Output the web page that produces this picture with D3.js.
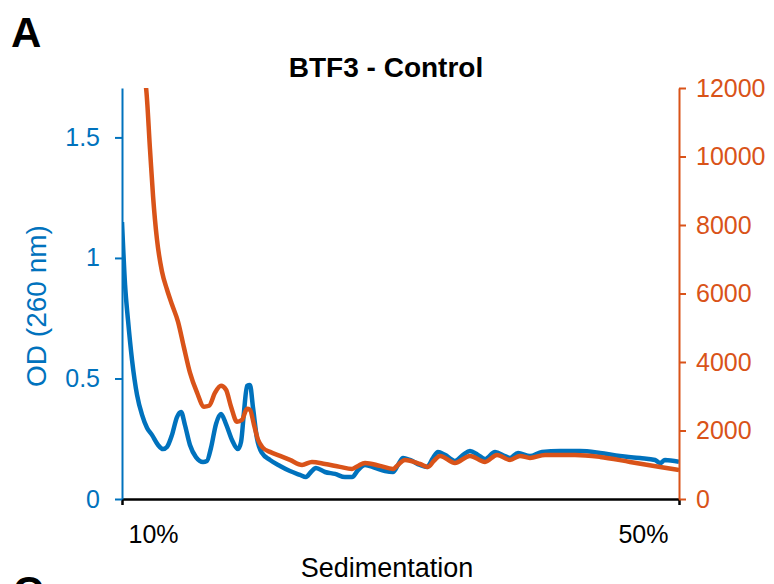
<!DOCTYPE html>
<html lang="en">
<head>
  <meta charset="UTF-8">
  <title>BTF3 - Control</title>
  <script src="https://d3js.org/d3.v7.min.js"></script>
  <style>
    body {
      margin: 0;
      padding: 0;
      background: #ffffff;
      font-family: "Liberation Sans", Arial, sans-serif;
    }
    .tick text {
      font-family: "Liberation Sans", Arial, sans-serif;
    }
  </style>
</head>
<body>
  <svg id="chart"></svg>

  <script>
    // sucrose gradient position (%), OD 260 nm trace
    const odSed = [10.00, 10.22, 10.43, 10.72, 11.08, 11.44, 11.80, 12.15, 12.59, 12.94, 13.23, 13.59,
      13.95, 14.24, 14.52, 14.88, 15.31, 15.82, 16.10, 16.39, 16.75, 17.11, 17.47, 17.90, 18.33, 18.55,
      18.76, 18.98, 19.19, 19.41, 19.69, 20.05, 20.63, 21.35, 22.06, 22.78, 23.21, 23.57, 23.93, 24.58,
      25.30, 26.01, 26.52, 26.95, 27.45, 28.17, 28.89, 29.46, 29.82, 30.18, 30.68, 31.40, 31.90, 32.33,
      32.69, 33.19, 33.91, 34.49, 34.99, 35.56, 36.07, 36.79, 37.50, 37.86, 38.44, 39.30, 40.16, 41.45,
      42.89, 44.33, 45.76, 47.20, 48.28, 48.64, 48.99, 50.00];
    const odValues = [1.149, 0.888, 0.743, 0.577, 0.432, 0.349, 0.295, 0.266, 0.224, 0.207, 0.216, 0.266,
      0.340, 0.361, 0.307, 0.224, 0.174, 0.154, 0.158, 0.212, 0.311, 0.353, 0.311, 0.245, 0.207, 0.237,
      0.361, 0.469, 0.473, 0.378, 0.253, 0.191, 0.162, 0.137, 0.116, 0.100, 0.091, 0.112, 0.129, 0.112,
      0.104, 0.091, 0.091, 0.120, 0.141, 0.129, 0.116, 0.112, 0.141, 0.170, 0.162, 0.141, 0.133, 0.170,
      0.195, 0.183, 0.158, 0.183, 0.199, 0.183, 0.166, 0.195, 0.178, 0.170, 0.191, 0.178, 0.195, 0.199,
      0.199, 0.191, 0.178, 0.170, 0.162, 0.149, 0.162, 0.154];

    // second trace (right axis)
    const sigSed = [11.58, 11.72, 12.01, 12.23, 12.51, 12.87, 13.23, 13.59, 14.02, 14.45, 14.88, 15.39,
      15.89, 16.25, 16.68, 17.11, 17.47, 17.83, 18.26, 18.62, 18.98, 19.19, 19.48, 19.77, 20.13, 20.63,
      21.35, 22.06, 22.93, 23.64, 24.58, 25.65, 26.52, 26.95, 27.45, 28.53, 29.46, 29.82, 30.32, 31.40,
      31.97, 32.40, 32.84, 33.91, 34.99, 36.07, 36.93, 37.86, 38.58, 39.30, 40.38, 42.53, 44.33, 46.48,
      48.64, 50.00];
    const sigValues = [12264, 12030, 10215, 8840, 7581, 6644, 6117, 5678, 5181, 4420, 3688, 3103,
      2693, 2722, 3103, 3308, 3190, 2693, 2254, 2312, 2634, 2605, 2166, 1727, 1493, 1376,
      1259, 1142, 995, 1083, 1024, 937, 878, 966, 1054, 966, 878, 995, 1142, 1024,
      937, 1112, 1259, 1054, 1259, 1083, 1288, 1142, 1259, 1200, 1288, 1288, 1229, 1083,
      937, 849];

    const leftTicks = [0, 0.5, 1, 1.5];
    const rightTicks = [0, 2000, 4000, 6000, 8000, 10000, 12000];
    const xTicks = [10, 50];

    const blue = "#0072BD";
    const orange = "#D95319";

    const width = 774, height = 584;
    const margin = { top: 88, right: 95, bottom: 85, left: 122 };
    const innerW = width - margin.left - margin.right;
    const innerH = height - margin.top - margin.bottom;

    const svg = d3.select("#chart")
      .attr("width", width)
      .attr("height", height);

    const x = d3.scaleLinear().domain([10, 50]).range([0, innerW]);
    const yL = d3.scaleLinear().domain([0, 1.705]).range([innerH, 0]);
    const yR = d3.scaleLinear().domain([0, 12000]).range([innerH, 0]);

    const g = svg.append("g")
      .attr("transform", `translate(${margin.left},${margin.top})`);

    g.append("clipPath").attr("id", "plot-clip")
      .append("rect")
      .attr("x", 0).attr("y", 0)
      .attr("width", innerW).attr("height", innerH);

    // lines
    const odLine = d3.line()
      .x((d, i) => x(odSed[i]))
      .y(d => yL(d))
      .curve(d3.curveMonotoneX);

    const sigLine = d3.line()
      .x((d, i) => x(sigSed[i]))
      .y(d => yR(d))
      .curve(d3.curveMonotoneX);

    const lines = g.append("g").attr("clip-path", "url(#plot-clip)");

    lines.append("path")
      .datum(odValues)
      .attr("d", odLine)
      .attr("fill", "none")
      .attr("stroke", blue)
      .attr("stroke-width", 4.5)
      .attr("stroke-linejoin", "round");

    lines.append("path")
      .datum(sigValues)
      .attr("d", sigLine)
      .attr("fill", "none")
      .attr("stroke", orange)
      .attr("stroke-width", 4.5)
      .attr("stroke-linejoin", "round");

    // bottom axis
    const xAxis = g.append("g")
      .attr("transform", `translate(0,${innerH})`)
      .call(d3.axisBottom(x).tickValues(xTicks).tickSize(6).tickSizeOuter(0)
        .tickFormat(d => d + "%"));
    xAxis.select(".domain").attr("stroke", "#000").attr("stroke-width", 2.5);
    xAxis.selectAll(".tick line").attr("stroke", "#000").attr("stroke-width", 2.5);
    xAxis.selectAll(".tick text")
      .attr("font-size", 25)
      .attr("fill", "#000")
      .attr("y", 26)
      .attr("dy", "0.71em")
      .attr("text-anchor", (d, i) => i === 0 ? "start" : "end")
      .attr("dx", (d, i) => i === 0 ? 6 : -11);

    // left axis
    const leftAxis = g.append("g")
      .call(d3.axisLeft(yL).tickValues(leftTicks).tickSize(7).tickSizeOuter(0)
        .tickFormat(d3.format("")));
    leftAxis.select(".domain").attr("stroke", blue).attr("stroke-width", 2);
    leftAxis.selectAll(".tick line").attr("stroke", blue).attr("stroke-width", 2);
    leftAxis.selectAll(".tick text")
      .attr("font-size", 25)
      .attr("fill", blue)
      .attr("x", -22);

    // right axis
    const rightAxis = g.append("g")
      .attr("transform", `translate(${innerW},0)`)
      .call(d3.axisRight(yR).tickValues(rightTicks).tickSize(7).tickSizeOuter(0)
        .tickFormat(d3.format("d")));
    rightAxis.select(".domain").attr("stroke", orange).attr("stroke-width", 2);
    rightAxis.selectAll(".tick line").attr("stroke", orange).attr("stroke-width", 2);
    rightAxis.selectAll(".tick text")
      .attr("font-size", 25)
      .attr("fill", orange)
      .attr("x", 17);

    // labels
    svg.append("text")
      .attr("x", 386).attr("y", 77)
      .attr("text-anchor", "middle")
      .attr("font-size", 28)
      .attr("font-weight", "bold")
      .text("BTF3 - Control");

    svg.append("text")
      .attr("transform", "translate(46,306) rotate(-90)")
      .attr("text-anchor", "middle")
      .attr("font-size", 28)
      .attr("fill", blue)
      .text("OD (260 nm)");

    svg.append("text")
      .attr("x", 387).attr("y", 577)
      .attr("text-anchor", "middle")
      .attr("font-size", 27)
      .text("Sedimentation");

    svg.append("text")
      .attr("x", 11).attr("y", 47)
      .attr("font-size", 42)
      .attr("font-weight", "bold")
      .text("A");

    // next panel's letter, cut by the bottom edge as in the figure
    svg.append("text")
      .attr("x", 13).attr("y", 606)
      .attr("font-size", 42)
      .attr("font-weight", "bold")
      .text("C");
  </script>
</body>
</html>
